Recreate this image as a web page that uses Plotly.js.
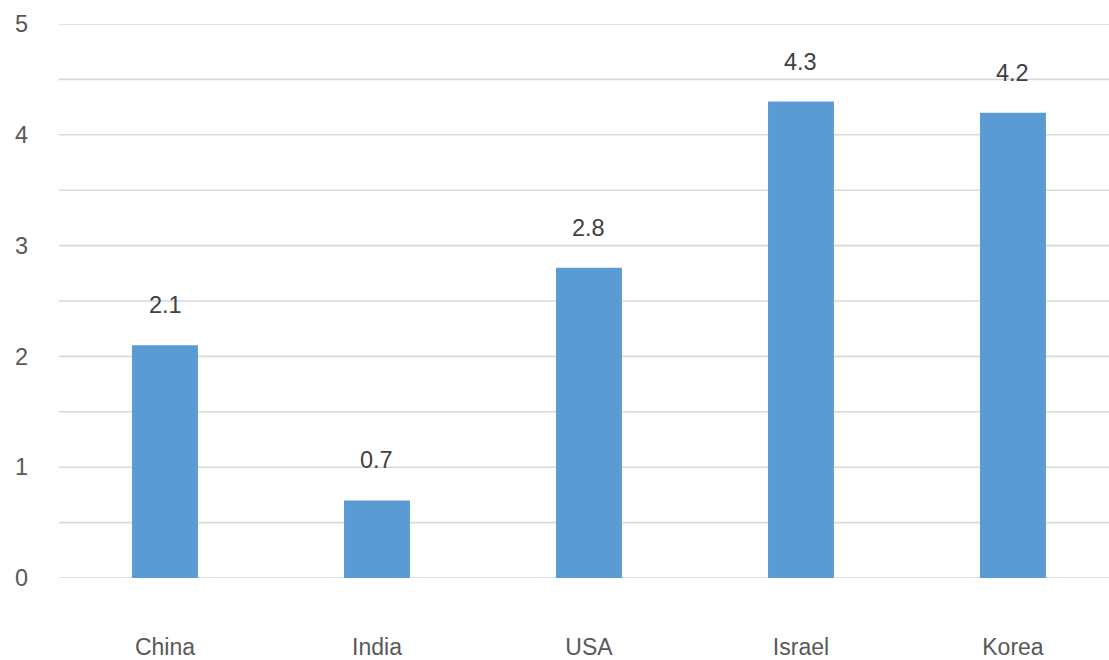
<!DOCTYPE html>
<html>
<head>
<meta charset="utf-8">
<script src="https://cdn.plot.ly/plotly-3.0.1.min.js"></script>
<style>html,body{margin:0;padding:0;background:#fff;}#chart{width:1109px;height:660px;}</style>
</head>
<body>
<div id="chart"></div>
<script>
const categories = ["China", "India", "USA", "Israel", "Korea"];
const values = [2.1, 0.7, 2.8, 4.3, 4.2];
const valueLabels = ["2.1", "0.7", "2.8", "4.3", "4.2"];
const yTicks = [0, 1, 2, 3, 4, 5];

const font = "Liberation Sans, Arial, sans-serif";
const annotations = categories.map((c, i) => ({
  x: c, y: values[i], text: valueLabels[i], showarrow: false,
  yshift: 40, font: {family: font, size: 23.5, color: "#404040"}
}));

Plotly.newPlot("chart", [{
  type: "bar", x: categories, y: values, width: 0.311,
  marker: {color: "#5b9bd5"}, hoverinfo: "none"
}], {
  width: 1109, height: 660,
  margin: {l: 59, r: 0, t: 24, b: 82, pad: 0},
  paper_bgcolor: "#fff", plot_bgcolor: "#fff",
  showlegend: false,
  font: {family: font, size: 23.5, color: "#595959"},
  xaxis: {range: [-0.5, 4.453], showgrid: false, zeroline: false, showline: false,
          ticks: "", ticklabelstandoff: 53, tickfont: {size: 23, color: "#595959"}},
  yaxis: {range: [0, 5], tickvals: yTicks, ticktext: yTicks.map(String),
          showgrid: false, zeroline: false, showline: false, ticks: "",
          ticklabelstandoff: 30, tickfont: {size: 23.5, color: "#595959"}},
  shapes: [0,0.5,1,1.5,2,2.5,3,3.5,4,4.5,5].map(v => ({
    type: "line", xref: "paper", x0: 0, x1: 1, yref: "y", y0: v, y1: v,
    line: {color: "#d9d9d9", width: 1.6}, layer: "below"
  })),
  annotations: annotations
}, {displayModeBar: false, staticPlot: true});
</script>
</body>
</html>
